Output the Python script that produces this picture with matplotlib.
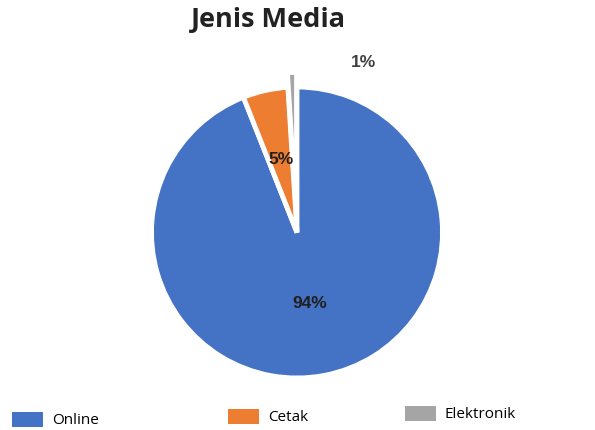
import numpy as np
import matplotlib
matplotlib.use("Agg")
import matplotlib.pyplot as plt
from matplotlib.patches import Patch

labels = ["Online", "Cetak", "Elektronik"]
values = [94, 5, 1]
colors = ["#4472C4", "#ED7D31", "#A5A5A5"]
pct_labels = ["94%", "5%", "1%"]

W, H = 595, 430
fig = plt.figure(figsize=(W / 100, H / 100), dpi=100)

# pie centre (297, 232) px, radius 145 px
cx, cy, r = 297, 232.5, 145.5
half = 160
ax = fig.add_axes([(cx - half) / W, (H - cy - half) / H, 2 * half / W, 2 * half / H])
lim = half / r
ax.set_aspect("equal")
ax.axis("off")

wedges, _ = ax.pie(values, colors=colors, startangle=90, counterclock=False,
                   explode=[0, 0, 0.1], radius=1,
                   wedgeprops=dict(edgecolor="white", linewidth=3.5))
ax.set_xlim(-lim, lim)
ax.set_ylim(-lim, lim)

lab_font = ["Liberation Sans Narrow", "Liberation Sans", "DejaVu Sans"]
ax.text(0.09, -0.49, pct_labels[0], ha="center", va="center", fontsize=12.5,
        fontweight="bold", color="#1f1f1f", family=lab_font)
ax.text(-0.11, 0.5, pct_labels[1], ha="center", va="center", fontsize=12.5,
        fontweight="bold", color="#1f1f1f", family=lab_font)
ax.text(0.46, 1.17, pct_labels[2], ha="center", va="center", fontsize=12.5,
        fontweight="bold", color="#404040", family=lab_font)

fig.text(268 / W, 1 - 20 / H, "Jenis Media", ha="center", va="center",
         fontsize=19.5, fontweight="bold", color="#222222", family=["Open Sans", "DejaVu Sans"])

handles = [Patch(facecolor=c, edgecolor="none") for c in colors]
leg_x = [12, 228, 405]
leg_y = [420, 417, 414]
for h, lab, x, y in zip(handles, labels, leg_x, leg_y):
    fig.legend([h], [lab], loc="center left", bbox_to_anchor=(x / W, 1 - y / H),
               frameon=False, handlelength=2.0, handleheight=1.2,
               handletextpad=0.6, borderpad=0, borderaxespad=0,
               prop={"family": ["Open Sans", "DejaVu Sans"], "size": 11})

fig.savefig("out.png", dpi=100, facecolor="white")
